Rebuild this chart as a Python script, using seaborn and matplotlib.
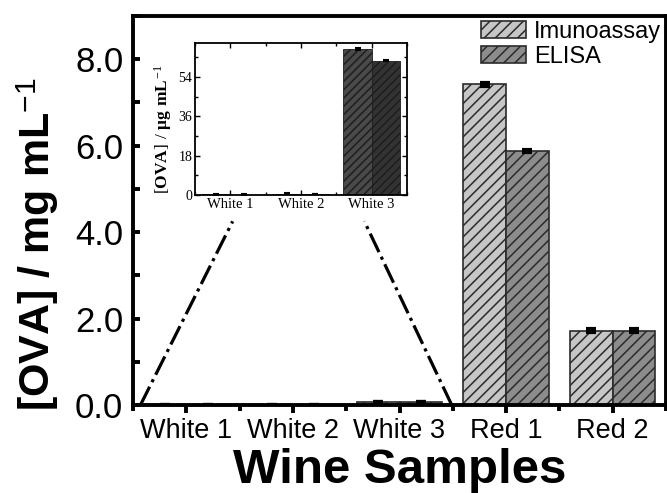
import matplotlib
matplotlib.use("Agg")
import matplotlib.pyplot as plt
import seaborn as sns
import pandas as pd
import numpy as np
from matplotlib.ticker import FixedLocator, MultipleLocator

# ---------------- data ----------------
categories = ["White 1", "White 2", "White 3", "Red 1", "Red 2"]
methods = ["Imunoassay", "ELISA"]
imuno_vals = [0.0003, 0.0006, 0.067, 7.42, 1.72]
elisa_vals = [0.0002, 0.0005, 0.061, 5.88, 1.72]
imuno_err = [0.0, 0.0, 0.002, 0.04, 0.03]
elisa_err = [0.0, 0.0, 0.002, 0.03, 0.03]

inset_categories = ["White 1", "White 2", "White 3"]
inset_imuno = [0.3, 0.6, 66.9]
inset_elisa = [0.2, 0.5, 61.4]
inset_imuno_err = [0.1, 0.2, 0.6]
inset_elisa_err = [0.1, 0.1, 0.2]

main_yticks = [0.0, 2.0, 4.0, 6.0, 8.0]
inset_yticks = [0, 18, 36, 54]

# ---------------- style ----------------
sns.set_style("white")
plt.rcParams["font.family"] = ["Liberation Sans", "DejaVu Sans"]
plt.rcParams["text.color"] = "black"
plt.rcParams["axes.labelcolor"] = "black"
plt.rcParams["xtick.color"] = "black"
plt.rcParams["ytick.color"] = "black"
plt.rcParams["mathtext.fontset"] = "custom"
plt.rcParams["mathtext.bf"] = "Liberation Sans:bold"
plt.rcParams["mathtext.sf"] = "Liberation Sans"
plt.rcParams["mathtext.it"] = "Liberation Serif:bold"
plt.rcParams["mathtext.rm"] = "Liberation Serif"
plt.rcParams["hatch.linewidth"] = 1.1

fig = plt.figure(figsize=(6.67, 4.93), dpi=100)
ax = fig.add_axes([133 / 667, (493 - 405) / 493, 533 / 667, 389 / 493])

df = pd.DataFrame({
    "sample": categories * 2,
    "method": [methods[0]] * len(categories) + [methods[1]] * len(categories),
    "value": imuno_vals + elisa_vals,
})
main_colors = ["#c6c6c6", "#8c8c8c"]
sns.barplot(data=df, x="sample", y="value", hue="method", order=categories,
            hue_order=methods, palette=main_colors, saturation=1, width=0.8,
            errorbar=None, edgecolor="#2b2b2b", linewidth=1.2, ax=ax, legend=False)

for cont, err in zip(ax.containers, [imuno_err, elisa_err]):
    xs, hs = [], []
    for bar in cont:
        bar.set_hatch("///")
        xs.append(bar.get_x() + bar.get_width() / 2)
        hs.append(bar.get_height())
    ax.errorbar(xs, hs, yerr=err, fmt="none", ecolor="black", elinewidth=2,
                capsize=3.8, capthick=3, zorder=5)

ax.set_xlim(-0.5, 4.5)
ax.set_ylim(0, 9.0)
ax.yaxis.set_major_locator(FixedLocator(main_yticks))
ax.yaxis.set_minor_locator(MultipleLocator(1.0))
ax.set_yticklabels([f"{v:.1f}" for v in main_yticks])
ax.xaxis.set_minor_locator(FixedLocator(np.arange(-0.5, 4.6, 1.0)))
for s in ax.spines.values():
    s.set_linewidth(2.8)
    s.set_color("black")
ax.tick_params(axis="y", which="both", direction="in", length=5, width=2.8,
               labelsize=25, pad=7, left=True, right=False)
ax.tick_params(axis="x", which="major", direction="out", length=6, width=2.8,
               labelsize=19.5, pad=3, bottom=True, top=False)
ax.tick_params(axis="x", which="minor", direction="out", length=4, width=2.8,
               bottom=True, top=False)
ax.set_xlabel("Wine Samples", fontsize=35.5, fontweight="bold", labelpad=3)
ax.set_ylabel(r"$\mathbf{[OVA]\ /\ mg\ mL}^{\mathsf{-1}}$", fontsize=31)
ax.yaxis.set_label_coords(-0.135, 0.414)

# legend
leg = ax.legend(handles=[ax.containers[0], ax.containers[1]], labels=methods,
                loc="upper right", frameon=False, fontsize=17,
                handlelength=1.9, handleheight=0.78, handletextpad=0.35,
                labelspacing=0.12, borderaxespad=0.05, borderpad=0.15)

# dash-dot zoom lines
ax.plot([-0.43, 0.435], [0.0, 4.25], ls="-.", color="black", lw=2.3, zorder=1)
ax.plot([2.49, 1.67], [0.0, 4.25], ls="-.", color="black", lw=2.3, zorder=1)

# ---------------- inset ----------------
axi = fig.add_axes([195 / 667, (493 - 195) / 493, 212 / 667, 152 / 493])
dfi = pd.DataFrame({
    "sample": inset_categories * 2,
    "method": [methods[0]] * 3 + [methods[1]] * 3,
    "value": inset_imuno + inset_elisa,
})
sns.barplot(data=dfi, x="sample", y="value", hue="method", order=inset_categories,
            hue_order=methods, palette=["#4a4a4a", "#333333"], saturation=1,
            width=0.8, errorbar=None, edgecolor="#1e1e1e", linewidth=0.6,
            ax=axi, legend=False)
for cont, err in zip(axi.containers, [inset_imuno_err, inset_elisa_err]):
    xs, hs = [], []
    for bar in cont:
        bar.set_hatch("////")
        xs.append(bar.get_x() + bar.get_width() / 2)
        hs.append(bar.get_height())
    axi.errorbar(xs, hs, yerr=err, fmt="none", ecolor="black", elinewidth=1,
                 capsize=2.5, capthick=1.5, zorder=5)
axi.set_xlim(-0.5, 2.5)
axi.set_ylim(0, 69.6)
axi.yaxis.set_major_locator(FixedLocator(inset_yticks))
axi.yaxis.set_minor_locator(MultipleLocator(9))
axi.xaxis.set_minor_locator(FixedLocator(np.arange(-0.5, 2.6, 1.0)))
for s in axi.spines.values():
    s.set_linewidth(1.3)
    s.set_color("black")
axi.tick_params(axis="both", which="both", direction="in", top=True, right=True,
                left=True, bottom=True, width=1.0)
axi.tick_params(axis="both", which="major", length=3.5)
axi.tick_params(axis="both", which="minor", length=2)
axi.tick_params(axis="y", labelsize=10, pad=2)
axi.tick_params(axis="x", labelsize=10.5, pad=2)
for lab in axi.get_xticklabels() + axi.get_yticklabels():
    lab.set_fontfamily("Liberation Serif")
axi.set_xlabel("")
axi.set_ylabel(r"$\mathit{[OVA]\ /\ \mu g\ mL}^{\mathrm{-1}}$", fontsize=12.5)
axi.yaxis.set_label_coords(-0.1, 0.43)

fig.savefig("out.png", dpi=100)
